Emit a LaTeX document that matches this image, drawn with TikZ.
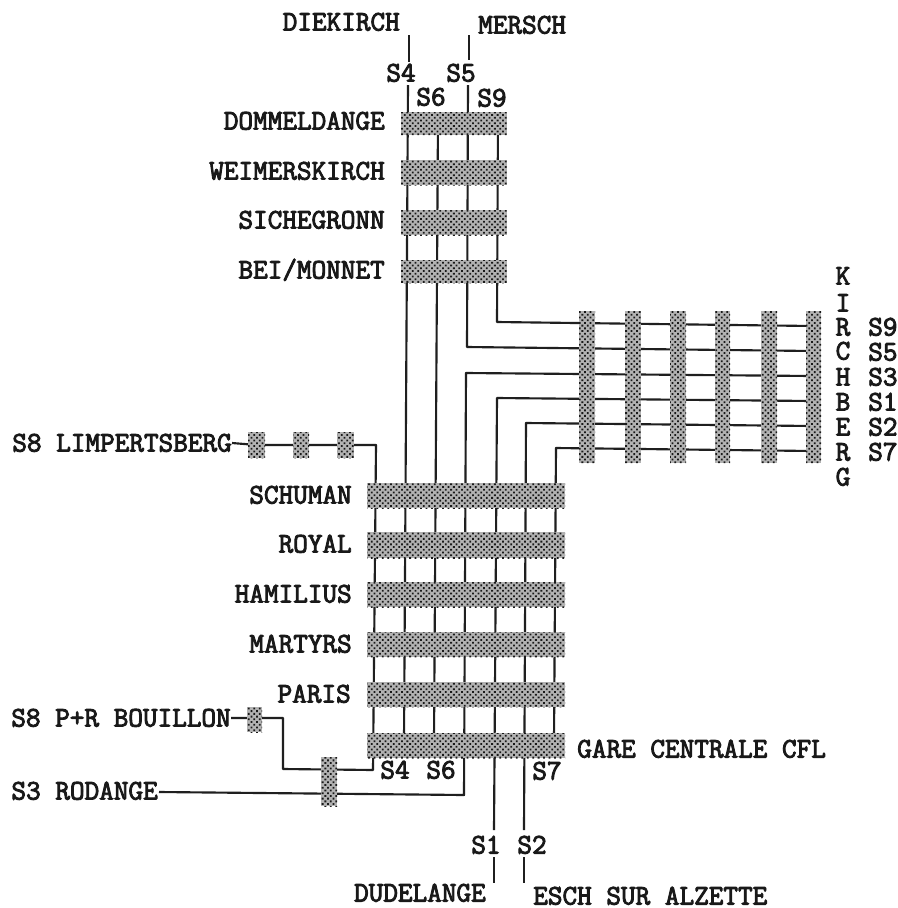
\documentclass[tikz,border=0pt]{standalone}
\usepackage{fontspec}
\newfontfamily\lblfont[FakeBold=3.2]{Latin Modern Mono}
\usetikzlibrary{fit,backgrounds,patterns.meta}
\tikzset{
  barbox/.style={rectangle,draw=none,inner sep=0pt,fill=black!30,
    postaction={pattern={Dots[distance=2.9pt,radius=0.95pt,angle=45]},pattern color=black!90}},
  lbl/.style={inner sep=0pt,text=black!90,text height=12.8pt,text depth=0pt,
    font=\lblfont\fontsize{21.3}{21.3}\selectfont},
  track/.style={draw=black!88,line width=1.6pt,line join=round}
}
\begin{document}
\begin{tikzpicture}[x=0.75pt,y=-0.75pt]
\useasboundingbox (0,0) rectangle (898,908);
% horizontal station bars, north branch
\foreach \n/\a/\b in {dom/112/135,wei/160/185,sic/210/235,bei/260/283}
  \node[barbox,fit={(401,\a)(507,\b)}] (\n) {};
% horizontal station bars, centre
\foreach \n/\a/\b in {sch/483/508,roy/532/558,ham/582/607,mar/632/657,par/682/707,gar/733/758}
  \node[barbox,fit={(367,\a)(565,\b)}] (\n) {};
% vertical bars, Kirchberg
\foreach \n/\l/\r in {ka/579/595,kb/625/641,kc/670/686,kd/715/730,ke/761/777,kf/806/821}
  \node[barbox,fit={(\l,311)(\r,463)}] (\n) {};
% small bars
\foreach \n/\l/\r in {la/248/265,lb/293/309,lc/337/354}
  \node[barbox,fit={(\l,432)(\r,458)}] (\n) {};
\node[barbox,fit={(247,707)(262,732)}] (pr) {};
\node[barbox,fit={(321,757)(337,806)}] (rd) {};
% labels
\node[lbl,anchor=east] (diek) at (400,22) {DIEKIRCH};
\node[lbl,anchor=west] (mers) at (478,25) {MERSCH};
\node[lbl,anchor=center] (ls4) at (401,73) {S4};
\node[lbl,anchor=center] (ls5) at (461,73) {S5};
\node[lbl,anchor=center] (ls6) at (431,97) {S6};
\node[lbl,anchor=center] (ls9) at (492,98) {S9};
\node[lbl,anchor=east] at (385,121) {DOMMELDANGE};
\node[lbl,anchor=east] at (385,171) {WEIMERSKIRCH};
\node[lbl,anchor=east] at (385,220) {SICHEGRONN};
\node[lbl,anchor=east] at (385,270) {BEI/MONNET};
\foreach \c/\y in {K/276,I/303,R/327,C/351,H/377,B/402,E/427,R/452,G/477}
  \node[lbl,anchor=center] at (843,\y) {\c};
\foreach \c/\y in {S9/327,S5/352,S3/377,S1/402,S2/427,S7/452}
  \node[lbl,anchor=west] at (868,\y) {\c};
\node[lbl,anchor=east] (limp) at (232,443) {S8 LIMPERTSBERG};
\node[lbl,anchor=east] at (352,495) {SCHUMAN};
\node[lbl,anchor=east] at (352,544) {ROYAL};
\node[lbl,anchor=east] at (352,594) {HAMILIUS};
\node[lbl,anchor=east] at (352,644) {MARTYRS};
\node[lbl,anchor=east] at (351,694) {PARIS};
\node[lbl,anchor=west] at (577,749) {GARE CENTRALE CFL};
\node[lbl,anchor=east] (boui) at (231,718) {S8 P+R BOUILLON};
\node[lbl,anchor=east] (roda) at (158,791) {S3 RODANGE};
\node[lbl,anchor=center] at (395,770) {S4};
\node[lbl,anchor=center] at (441,770) {S6};
\node[lbl,anchor=center] at (547,771) {S7};
\node[lbl,anchor=center] (ls1) at (486,845) {S1};
\node[lbl,anchor=center] (ls2) at (532,845) {S2};
\node[lbl,anchor=east] (dude) at (486,893) {DUDELANGE};
\node[lbl,anchor=west] (esch) at (533,896) {ESCH SUR ALZETTE};
% connector ends
\coordinate (s4t) at (409,35); \coordinate (s4m) at (409,62);
\coordinate (s4u) at (408,85); \coordinate (s4e) at (404,740);
\coordinate (s5t) at (469,35); \coordinate (s5m) at (469,60);
\coordinate (s5u) at (468,85); \coordinate (s5c) at (467,347); \coordinate (s5e) at (812,351);
\coordinate (s6u) at (438,120); \coordinate (s6e) at (434,740);
\coordinate (s9u) at (498,120); \coordinate (s9c) at (497,322); \coordinate (s9e) at (812,326);
\coordinate (s3c) at (466,373); \coordinate (s3e) at (812,376);
\coordinate (s3d) at (464,795); \coordinate (s3l) at (159,792);
\coordinate (s1c) at (497,398); \coordinate (s1e) at (812,401);
\coordinate (s1m) at (494,830); \coordinate (s1n) at (494,857); \coordinate (s1o) at (494,883);
\coordinate (s2c) at (526,423); \coordinate (s2e) at (812,426);
\coordinate (s2m) at (524,830); \coordinate (s2n) at (524,857); \coordinate (s2o) at (524,883);
\coordinate (s7c) at (556,448); \coordinate (s7e) at (812,451); \coordinate (s7d) at (554,740);
\coordinate (s8a) at (376,445); \coordinate (s8b) at (373,770);
\coordinate (s8c) at (283,769); \coordinate (s8d) at (283,718);
\begin{pgfonlayer}{background}
\fill[white] (0,0) rectangle (898,908);
\draw[track] (s4t) -- (s4m);
\draw[track] (s4u) -- (s4e);
\draw[track] (s5t) -- (s5m);
\draw[track] (s5u) -- (s5c) -- (s5e);
\draw[track] (s6u) -- (s6e);
\draw[track] (s9u) -- (s9c) -- (s9e);
\draw[track] (s3e) -- (s3c) -- (s3d) -- (s3l);
\draw[track] (s1e) -- (s1c) -- (s1m);
\draw[track] (s1n) -- (s1o);
\draw[track] (s2e) -- (s2c) -- (s2m);
\draw[track] (s2n) -- (s2o);
\draw[track] (s7e) -- (s7c) -- (s7d);
\draw[track] (limp.east) -- (la.center) -- (lc.center) -- (s8a) -- (s8b) -- (s8c) -- (s8d) -- (boui.east);
\end{pgfonlayer}
\end{tikzpicture}
\end{document}
